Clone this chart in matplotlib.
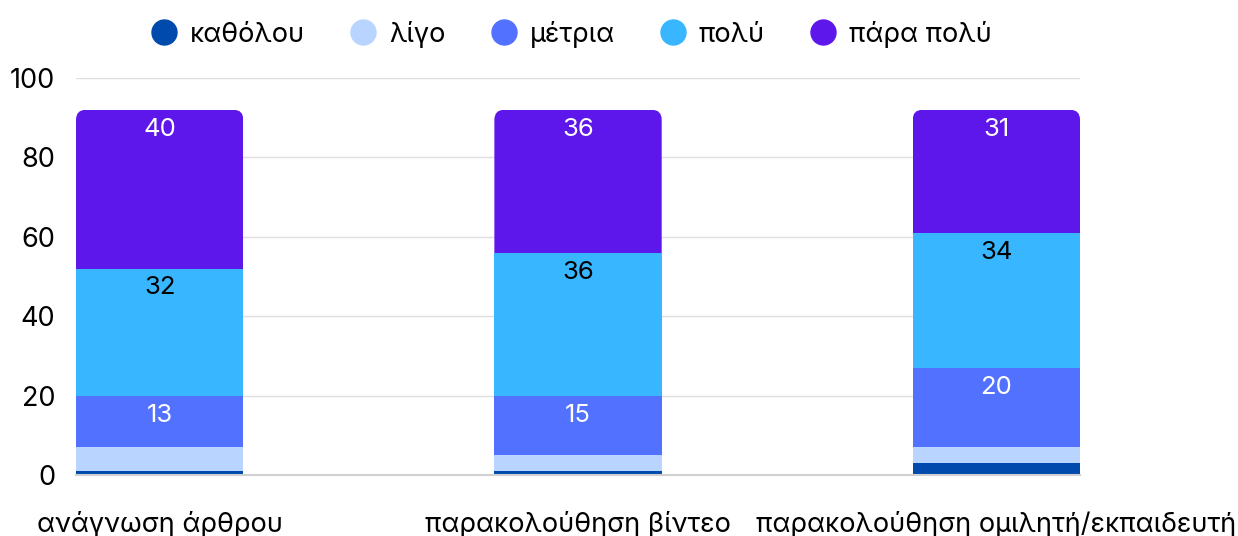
import matplotlib.pyplot as plt
from matplotlib.patches import FancyBboxPatch
from matplotlib.lines import Line2D
import numpy as np

plt.rcParams['font.family'] = ['Inter', 'DejaVu Sans']

# data
categories = ["ανάγνωση άρθρου", "παρακολούθηση βίντεο", "παρακολούθηση ομιλητή/εκπαιδευτή"]
series = ["καθόλου", "λίγο", "μέτρια", "πολύ", "πάρα πολύ"]
katholou = [1, 1, 3]
ligo = [6, 4, 4]
metria = [13, 15, 20]
poly = [32, 36, 34]
para_poly = [40, 36, 31]
values = [katholou, ligo, metria, poly, para_poly]

colors = ["#004AAD", "#B8D4FF", "#5271FF", "#38B6FF", "#5E17EB"]
label_colors = [None, None, "white", "black", "white"]

fig = plt.figure(figsize=(12.38, 5.36), dpi=100)
ax = fig.add_axes([0.0614, 0.1138, 0.8110, 0.7407])

x = np.arange(len(categories))
w = 0.4
bottom = np.zeros(len(categories))
for i, (name, vals) in enumerate(zip(series, values)):
    vals = np.array(vals, dtype=float)
    bars = ax.bar(x, vals, w, bottom=bottom, color=colors[i], zorder=2)
    if i == len(series) - 1:
        # round the upper corners of the top segment
        for rect, xi, b, v in zip(bars, x, bottom, vals):
            clip = FancyBboxPatch((xi - w / 2, b - 5), w, v + 5,
                                  boxstyle="round,pad=0,rounding_size=0.024",
                                  mutation_aspect=105, transform=ax.transData)
            rect.set_clip_path(clip)
    if label_colors[i]:
        for xi, b, v in zip(x, bottom, vals):
            ax.annotate(f"{int(v)}", (xi, b + v), xytext=(0, -14), textcoords="offset points",
                        ha="center", va="center", fontsize=18.5, color=label_colors[i], zorder=5)
    bottom += vals

ax.set_xlim(-w / 2, len(categories) - 1 + w / 2)
ax.set_ylim(0, 100)
ax.set_yticks([0, 20, 40, 60, 80, 100])
ax.set_xticks(x)
ax.set_xticklabels(categories)
ax.tick_params(axis="y", length=0, pad=15, labelsize=19.5)
ax.tick_params(axis="x", length=0, pad=26, labelsize=19.5)
ax.grid(axis="y", color="#E0E0E0", linewidth=1, zorder=0)
ax.set_axisbelow(True)
for s in ["top", "right", "left"]:
    ax.spines[s].set_visible(False)
ax.spines["bottom"].set_color("#D0D0D0")
ax.spines["bottom"].set_linewidth(1.5)

handles = [Line2D([], [], marker="o", linestyle="none", markersize=18,
                  markerfacecolor=c, markeredgecolor=c) for c in colors]
ax.legend(handles, series, loc="lower center", bbox_to_anchor=(0.493, 1.015), ncol=5,
          frameon=False, fontsize=19.5, handlelength=1.0, handletextpad=0.45,
          columnspacing=1.65)

fig.savefig("out.png", dpi=100)
